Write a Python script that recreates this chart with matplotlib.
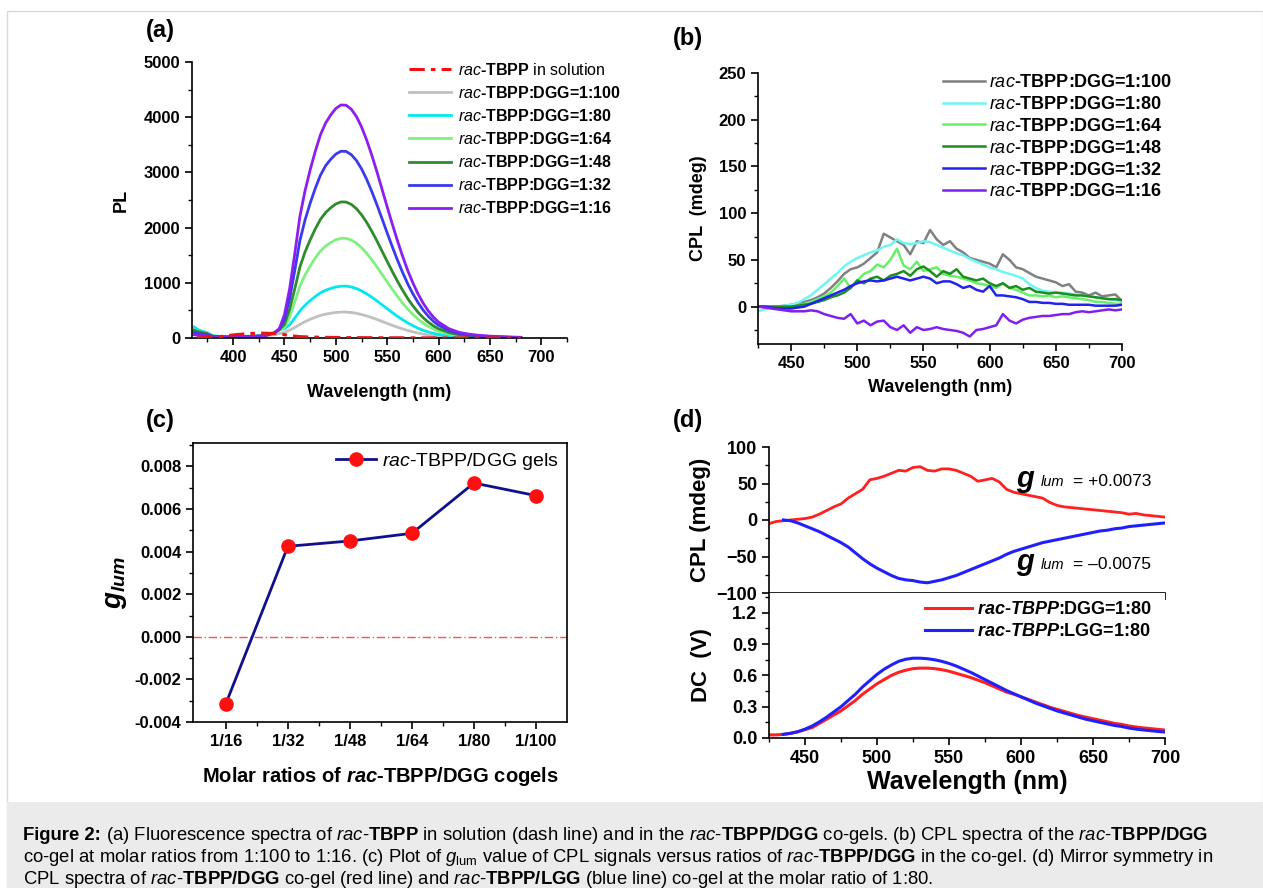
import numpy as np
import matplotlib
matplotlib.use("Agg")
import matplotlib.pyplot as plt
from matplotlib.ticker import MultipleLocator, FixedLocator, FormatStrFormatter
from matplotlib.patches import Rectangle

W, H = 1263, 888

# ---------------- (a) PL spectra ----------------
wl_a = [362, 366, 370, 375, 380, 390, 400, 410, 420, 430, 440,
        445, 450, 455, 460, 465, 470, 475, 480, 485, 490,
        495, 500, 505, 510, 515, 520, 525, 530, 535, 540,
        545, 550, 555, 560, 565, 570, 575, 580, 585, 590,
        595, 600, 610, 620, 630, 640, 650, 660, 670, 680]
pl_1_100 = [60, 50, 40, 30, 20, 15, 15, 20, 25, 35, 60,
            80, 100, 140, 190, 245, 296, 338, 376, 409, 432,
            449, 462, 469, 470, 462, 447, 426, 400, 369, 336,
            300, 264, 229, 196, 165, 136, 111, 89, 70, 55,
            42, 32, 19, 11, 8, 5, 4, 3, 2, 1]
pl_1_80 = [200, 150, 120, 95, 40, 25, 25, 30, 35, 45, 100,
           150, 170, 240, 360, 489, 592, 677, 752, 818, 865,
           898, 924, 938, 940, 925, 895, 855, 800, 740, 672,
           602, 530, 460, 393, 330, 273, 223, 178, 140, 109,
           84, 64, 38, 23, 15, 10, 8, 6, 4, 3]
pl_1_64 = [150, 120, 100, 80, 35, 20, 20, 25, 30, 40, 90,
           140, 190, 380, 652, 941, 1140, 1303, 1448, 1575, 1665,
           1729, 1779, 1806, 1805, 1774, 1718, 1636, 1535, 1417, 1289,
           1153, 1015, 881, 753, 634, 523, 427, 342, 270, 210,
           161, 123, 72, 43, 29, 20, 14, 11, 7, 5]
pl_1_48 = [140, 115, 100, 80, 35, 20, 20, 25, 30, 40, 90,
           150, 247, 519, 889, 1284, 1556, 1778, 1976, 2149, 2272,
           2359, 2428, 2465, 2463, 2421, 2344, 2233, 2095, 1934, 1759,
           1573, 1386, 1203, 1028, 865, 714, 583, 467, 368, 287,
           220, 168, 99, 59, 40, 27, 20, 15, 10, 7]
pl_1_32 = [100, 80, 70, 55, 30, 20, 20, 25, 30, 40, 90,
           160, 339, 712, 1220, 1763, 2136, 2441, 2712, 2949, 3119,
           3237, 3332, 3383, 3380, 3322, 3217, 3065, 2875, 2654, 2414,
           2159, 1902, 1651, 1410, 1187, 980, 800, 641, 505, 393,
           302, 231, 136, 81, 54, 37, 27, 20, 14, 10]
pl_1_16 = [60, 50, 45, 40, 25, 18, 18, 22, 28, 38, 90,
           170, 423, 888, 1523, 2200, 2665, 3046, 3384, 3680, 3892,
           4040, 4158, 4222, 4217, 4145, 4014, 3824, 3587, 3312, 3012,
           2694, 2373, 2060, 1760, 1481, 1222, 998, 799, 630, 491,
           376, 288, 169, 102, 68, 47, 34, 25, 17, 13]
wl_sol = [365, 375, 385, 395, 405, 415, 425, 435, 445, 455, 465, 475,
          490, 510, 540, 580, 620, 660, 680]
pl_sol = [5, 8, 20, 45, 65, 80, 88, 85, 75, 45, 25, 18, 12, 8, 5, 3, 2, 1, 0]

ratios = ["1:100", "1:80", "1:64", "1:48", "1:32", "1:16"]

# ---------------- (b) CPL spectra ----------------
wl_b = np.arange(425, 701, 5)
cpl_1_100 = [0, 0, -1, 0, 1, 2, 3, 5, 7, 10, 14, 20, 27, 35, 40,
             42, 46, 52, 58, 78, 74, 70, 66, 56, 70, 68, 82, 72, 66, 70,
             62, 58, 52, 50, 48, 46, 42, 56, 50, 42, 40, 36, 32, 30, 28,
             26, 22, 24, 16, 15, 12, 15, 11, 12, 13, 6]
cpl_1_80 = [-5, -3, -1, 0, 1, 2, 4, 8, 12, 18, 24, 30, 36, 43, 48,
            52, 55, 58, 60, 64, 66, 72, 68, 67, 68, 70, 69, 66, 63, 60,
            57, 55, 51, 48, 45, 42, 40, 37, 35, 33, 30, 24, 20, 17, 16,
            15, 15, 14, 13, 12, 11, 10, 9, 8, 7, 5]
cpl_1_64 = [0, 0, 0, 0, 0, 0, 1, 3, 5, 8, 11, 15, 22, 30, 20,
            28, 35, 38, 45, 42, 50, 62, 44, 40, 48, 38, 40, 42, 35, 33,
            32, 30, 28, 25, 24, 22, 20, 25, 20, 18, 15, 12, 12, 11, 12,
            10, 11, 10, 9, 8, 7, 5, 5, 4, 3, 3]
cpl_1_48 = [0, 0, 0, 0, 0, 0, 1, 2, 3, 5, 7, 10, 12, 15, 20,
            28, 25, 30, 32, 28, 33, 35, 38, 33, 40, 43, 38, 32, 38, 35,
            40, 32, 30, 28, 30, 25, 22, 25, 20, 22, 18, 20, 16, 15, 14,
            15, 14, 13, 12, 12, 11, 10, 9, 8, 8, 7]
cpl_1_32 = [0, 0, -1, -2, -2, -2, -1, 0, 3, 6, 9, 12, 15, 18, 22,
            25, 27, 28, 27, 28, 30, 32, 30, 28, 30, 32, 30, 25, 27, 27,
            24, 20, 22, 18, 16, 22, 12, 12, 11, 10, 8, 5, 5, 4, 4,
            3, 3, 2, 2, 2, 2, 1, 1, 1, 1, 2]
cpl_1_16 = [0, -1, -2, -3, -4, -5, -5, -5, -4, -5, -8, -10, -12, -13, -8,
            -18, -15, -20, -16, -15, -22, -25, -20, -28, -22, -25, -24, -22, -24, -25,
            -26, -28, -32, -25, -24, -22, -20, -8, -15, -18, -14, -12, -11, -10, -10,
            -9, -8, -8, -6, -5, -6, -5, -4, -3, -4, -3]

# ---------------- (c) g_lum vs ratio ----------------
ratio_labels = ["1/16", "1/32", "1/48", "1/64", "1/80", "1/100"]
glum = [-0.00314, 0.00425, 0.0045, 0.00486, 0.00722, 0.00663]

# ---------------- (d) mirror CPL + DC ----------------
wl_d = np.arange(425, 701, 5)
cpl_dgg = [-5, -2, -1, 0, 1, 2, 4, 8, 13, 18, 22, 30, 36, 42, 55,
           57, 60, 64, 68, 67, 72, 73, 68, 67, 70, 70, 68, 64, 60, 53,
           55, 57, 52, 42, 38, 36, 34, 32, 30, 24, 20, 18, 17, 16, 15,
           14, 13, 12, 11, 10, 8, 9, 7, 6, 5, 4]
wl_d_lgg = np.arange(435, 701, 5)
cpl_lgg = [0, -1, -4, -8, -12, -16, -21, -26, -31, -37, -45, -53, -60,
           -66, -71, -76, -80, -82, -83, -85, -86, -84, -82, -79, -76, -72,
           -68, -64, -60, -56, -52, -47, -43, -40, -37, -34, -31, -29, -27,
           -25, -23, -21, -19, -17, -15, -14, -12, -11, -9, -8, -7, -6, -5, -4]
dc_dgg = [0.03, 0.03, 0.035, 0.045, 0.06, 0.08, 0.10, 0.14, 0.18, 0.22,
          0.26, 0.31, 0.36, 0.42, 0.47, 0.52, 0.56, 0.60, 0.63, 0.65,
          0.665, 0.67, 0.67, 0.665, 0.655, 0.64, 0.62, 0.60, 0.58, 0.555,
          0.53, 0.50, 0.47, 0.44, 0.42, 0.395, 0.37, 0.345, 0.32, 0.295,
          0.275, 0.255, 0.235, 0.215, 0.20, 0.185, 0.17, 0.155, 0.14, 0.13,
          0.115, 0.105, 0.097, 0.09, 0.083, 0.076]
dc_lgg = [0.035, 0.045, 0.06, 0.085, 0.115, 0.155, 0.20, 0.25, 0.30, 0.36,
          0.42, 0.49, 0.55, 0.61, 0.66, 0.70, 0.735, 0.755, 0.765, 0.765,
          0.76, 0.75, 0.735, 0.715, 0.69, 0.66, 0.63, 0.595, 0.56, 0.525,
          0.49, 0.455, 0.425, 0.395, 0.365, 0.335, 0.31, 0.285, 0.26, 0.24,
          0.22, 0.20, 0.18, 0.165, 0.15, 0.135, 0.12, 0.11, 0.095, 0.085,
          0.077, 0.07, 0.063, 0.057]

plt.rcParams.update({
    "font.family": ["Liberation Sans", "DejaVu Sans"],
    "font.weight": "bold",
    "mathtext.fontset": "custom",
    "mathtext.rm": "Liberation Sans:normal",
    "mathtext.it": "Liberation Sans:italic:normal",
    "mathtext.bf": "Liberation Sans:bold",
    "mathtext.bfit": "Liberation Sans:italic:bold",
    "axes.linewidth": 1.2,
    "axes.labelweight": "bold",
})


def rect(l, t, r, b):
    return [l / W, 1 - b / H, (r - l) / W, (b - t) / H]


def ticks(ax, fs=12):
    ax.tick_params(which="major", direction="out", length=5, width=1.2, labelsize=fs)
    ax.tick_params(which="minor", direction="out", length=3, width=1.0)


def open_axes(ax):
    ax.spines["top"].set_visible(False)
    ax.spines["right"].set_visible(False)


fig = plt.figure(figsize=(W / 100, H / 100), dpi=100)

# frame + caption box
fig.patches.append(Rectangle((7 / W, 0), 1 - 7 / W, 1 - 11 / H, transform=fig.transFigure,
                             fill=False, edgecolor="#d9d9d9", lw=1.0))
fig.patches.append(Rectangle((7 / W, 0), 1 - 7 / W, 86 / H, transform=fig.transFigure,
                             facecolor="#ebebeb", edgecolor="none"))

rac = r"$\mathit{rac}$-"

# ---- (a)
ax = fig.add_axes(rect(192, 62, 567, 338))
cols_a = ["#c0c0c0", "#00e8f0", "#80f080", "#2e8b2e", "#3a3af0", "#8a1ff0"]
ax.plot(wl_sol, pl_sol, color="#ee1111", lw=2.2, ls=(0, (5, 2, 1.5, 2)), zorder=5,
        label=rac + "TBPP" + r"$\mathrm{\ in\ solution}$")
for ys, c, r in zip([pl_1_100, pl_1_80, pl_1_64, pl_1_48, pl_1_32, pl_1_16], cols_a, ratios):
    ax.plot(wl_a, ys, color=c, lw=2.0, label=rac + "TBPP:DGG=" + r)
ax.set_xlim(360, 725)
ax.set_ylim(0, 5000)
ax.xaxis.set_major_locator(FixedLocator([400, 450, 500, 550, 600, 650, 700]))
ax.xaxis.set_minor_locator(MultipleLocator(25))
ax.yaxis.set_major_locator(MultipleLocator(1000))
ax.yaxis.set_minor_locator(MultipleLocator(500))
open_axes(ax)
ticks(ax)
ax.set_xlabel("Wavelength (nm)", fontsize=13, labelpad=14)
ax.set_ylabel("PL", fontsize=13, labelpad=10)
ax.legend(loc="upper left", bbox_to_anchor=(401 / W, 1 - 54 / H), bbox_transform=fig.transFigure,
          frameon=False, borderpad=0, handlelength=2.6, handletextpad=0.45, labelspacing=0.44,
          prop={"size": 11.5, "weight": "bold"})

# ---- (b)
ax = fig.add_axes(rect(758, 73, 1122, 344))
cols_b = ["#808080", "#70f4f4", "#66f066", "#1e8c1e", "#2222ee", "#8020f0"]
for ys, c, r in zip([cpl_1_100, cpl_1_80, cpl_1_64, cpl_1_48, cpl_1_32, cpl_1_16], cols_b, ratios):
    ax.plot(wl_b, ys, color=c, lw=1.8, label=rac + "TBPP:DGG=" + r)
ax.set_xlim(425, 700)
ax.set_ylim(-40, 250)
ax.xaxis.set_major_locator(MultipleLocator(50))
ax.xaxis.set_minor_locator(MultipleLocator(25))
ax.yaxis.set_major_locator(FixedLocator([0, 50, 100, 150, 200, 250]))
ax.yaxis.set_minor_locator(MultipleLocator(25))
open_axes(ax)
ticks(ax)
ax.set_xlabel("Wavelength (nm)", fontsize=13, labelpad=6)
ax.set_ylabel("CPL  (mdeg)", fontsize=13, labelpad=8)
ax.legend(loc="upper left", bbox_to_anchor=(934 / W, 1 - 65 / H), bbox_transform=fig.transFigure,
          frameon=False, borderpad=0, handlelength=2.3, handletextpad=0.25, labelspacing=0.27,
          prop={"size": 13, "weight": "bold"})

# ---- (c)
ax = fig.add_axes(rect(193, 443, 567, 722))
xc = np.arange(len(ratio_labels))
ax.axhline(0, color="#ff5050", lw=1.0, ls=(0, (6, 2, 1, 2)))
ax.plot(xc, glum, color="#10108a", lw=2.0, marker="o", ms=9.5, mfc="#ff1010", mec="#ff1010",
        label=rac + "TBPP/DGG gels")
ax.set_xlim(-0.53, 5.5)
ax.set_ylim(-0.004, 0.0091)
ax.set_xticks(xc)
ax.set_xticklabels(ratio_labels)
ax.xaxis.set_minor_locator(FixedLocator(xc[:-1] + 0.5))
ax.yaxis.set_major_locator(MultipleLocator(0.002))
ax.yaxis.set_minor_locator(MultipleLocator(0.001))
ax.yaxis.set_major_formatter(FormatStrFormatter("%.3f"))
ticks(ax)
ax.tick_params(top=False, right=False)
ax.set_xlabel(r"Molar ratios of $\mathbfit{rac}$-TBPP/DGG cogels", fontsize=14.5, labelpad=12)
ax.set_ylabel(r"$\mathbfit{g}_{\mathbfit{lum}}$", fontsize=20, labelpad=4)
ax.legend(loc="upper right", frameon=False, borderpad=0.2, handlelength=2.1, handletextpad=0.3,
          borderaxespad=0.2, prop={"size": 14, "weight": "normal"})

# ---- (d) top: CPL
axt = fig.add_axes(rect(769, 447, 1165, 593))
axt.plot(wl_d, cpl_dgg, color="#ff2020", lw=2.0)
axt.plot(wl_d_lgg, cpl_lgg, color="#2020ff", lw=2.2)
axt.set_xlim(425, 700)
axt.set_ylim(-100, 100)
axt.xaxis.set_major_locator(MultipleLocator(50))
axt.xaxis.set_minor_locator(MultipleLocator(25))
axt.yaxis.set_major_locator(MultipleLocator(50))
axt.yaxis.set_minor_locator(MultipleLocator(25))
axt.tick_params(labelbottom=False)
open_axes(axt)
ticks(axt, fs=13)
axt.set_ylabel("CPL (mdeg)", fontsize=16, labelpad=4)

for txt, ypx in [("+0.0073", 487), ("\u20130.0075", 570)]:
    fig.text(1016 / W, 1 - ypx / H, "g", fontsize=21, style="italic", weight="bold",
             va="baseline", ha="left")
    fig.text(1041 / W, 1 - (ypx - 1) / H, "lum", fontsize=10.5, style="italic", weight="normal",
             va="baseline", ha="left")
    fig.text(1073 / W, 1 - (ypx - 1) / H, "= " + txt, fontsize=12.5, weight="normal",
             va="baseline", ha="left")

# ---- (d) bottom: DC
axb = fig.add_axes(rect(769, 593, 1165, 738))
axb.plot(wl_d, dc_dgg, color="#ff2020", lw=2.2,
         label=r"$\mathbfit{rac}$-$\mathbfit{TBPP}$:DGG=1:80")
axb.plot(wl_d_lgg, dc_lgg, color="#2020ff", lw=2.2,
         label=r"$\mathbfit{rac}$-$\mathbfit{TBPP}$:LGG=1:80")
axb.set_xlim(425, 700)
axb.set_ylim(0, 1.39)
axb.xaxis.set_major_locator(MultipleLocator(50))
axb.xaxis.set_minor_locator(MultipleLocator(25))
axb.yaxis.set_major_locator(FixedLocator([0.0, 0.3, 0.6, 0.9, 1.2]))
axb.yaxis.set_minor_locator(MultipleLocator(0.15))
axb.yaxis.set_major_formatter(FormatStrFormatter("%.1f"))
open_axes(axb)
ticks(axb, fs=13)
axb.set_xlabel("Wavelength (nm)", fontsize=18, labelpad=2)
axb.set_ylabel("DC  (V)", fontsize=16, labelpad=14)
axb.legend(loc="upper left", bbox_to_anchor=(916 / W, 1 - 592 / H), bbox_transform=fig.transFigure,
           frameon=False, borderpad=0, handlelength=2.6, handletextpad=0.3, labelspacing=0.3,
           prop={"size": 13, "weight": "bold"})

# panel letters
for lab, xp, yp in [("(a)", 160, 30), ("(b)", 688, 38), ("(c)", 160, 420), ("(d)", 688, 420)]:
    fig.text(xp / W, 1 - yp / H, lab, fontsize=17, weight="bold", ha="center", va="center")

# caption
cap_fs = 13.3
t0 = fig.text(23 / W, 1 - 835 / H, "Figure 2:", fontsize=cap_fs, weight="bold", ha="left", va="center")
bb = t0.get_window_extent(fig.canvas.get_renderer())
cap = [
    r" (a) Fluorescence spectra of " + rac + r"$\mathbf{TBPP}$ in solution (dash line) and in the "
    + rac + r"$\mathbf{TBPP/DGG}$ co-gels. (b) CPL spectra of the " + rac + r"$\mathbf{TBPP/DGG}$",
    r"co-gel at molar ratios from 1:100 to 1:16. (c) Plot of $\mathit{g}_{\mathrm{lum}}$ value of CPL signals versus ratios of "
    + rac + r"$\mathbf{TBPP/DGG}$ in the co-gel. (d) Mirror symmetry in",
    r"CPL spectra of " + rac + r"$\mathbf{TBPP/DGG}$ co-gel (red line) and " + rac
    + r"$\mathbf{TBPP/LGG}$ (blue line) co-gel at the molar ratio of 1:80.",
]
for i, (line, yp) in enumerate(zip(cap, [835, 857, 879])):
    x0 = bb.x1 / W if i == 0 else 23 / W
    fig.text(x0, 1 - yp / H, line, fontsize=cap_fs, weight="normal", ha="left", va="center")

fig.savefig("out.png", dpi=100)
